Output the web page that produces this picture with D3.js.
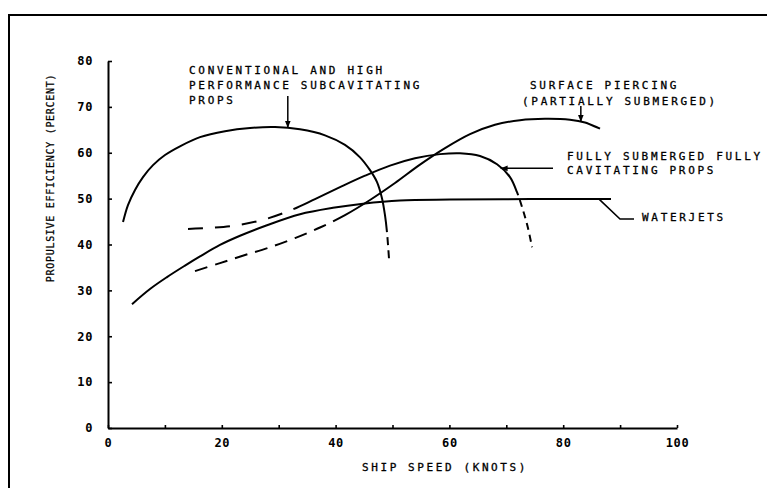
<!DOCTYPE html>
<html><head><meta charset="utf-8">
<script src="https://cdn.jsdelivr.net/npm/d3@7/dist/d3.min.js"></script>
<style>body{margin:0;background:#fff}svg{display:block}</style>
</head><body>
<svg id="chart" width="767" height="488"></svg>
<script>
// ---------- data ----------
const xTickValues = [0,10,20,30,40,50,60,70,80,90,100];
const xTickLabels = [0,20,40,60,80,100];
const yTickValues = [0,10,20,30,40,50,60,70,80];

const conventionalSpeed = [2.64, 3.51, 4.75, 6.15, 7.91, 10.02, 12.65, 16.17, 20.56, 24.96, 29.35, 33.74, 38.14, 41.65, 44.29, 46.05, 47.28, 48.15, 48.68, 49.03, 49.38];
const conventionalEff   = [44.9, 48.6, 51.9, 54.7, 57.3, 59.5, 61.4, 63.4, 64.7, 65.4, 65.6, 65.1, 63.8, 61.7, 59.0, 56.2, 53.6, 50.1, 46.4, 42.7, 37.0];

const waterjetSpeed = [4.22, 7.38, 10.37, 13.53, 16.17, 19.68, 23.2, 27.94, 33.74, 39.54, 44.82, 51.32, 60.1, 74.2, 88.4];
const waterjetEff   = [27.0, 30.3, 32.9, 35.4, 37.4, 39.9, 41.9, 44.2, 46.6, 48.0, 48.9, 49.6, 49.8, 49.9, 49.9];

const fullySubSpeed = [14.06, 18.8, 23.2, 27.59, 31.99, 36.38, 40.77, 45.17, 49.56, 53.95, 58.35, 61.86, 65.38, 68.37, 70.65, 71.88, 72.93, 73.81, 74.52];
const fullySubEff   = [43.4, 43.7, 44.3, 45.5, 47.4, 49.9, 52.5, 55.0, 57.2, 58.8, 59.7, 59.9, 59.3, 57.5, 54.7, 51.4, 47.5, 43.6, 39.4];

const surfaceSpeed = [15.29, 19.68, 24.08, 28.47, 32.86, 37.26, 41.65, 46.05, 50.44, 54.83, 59.23, 63.62, 68.01, 72.41, 76.8, 81.19, 83.83, 86.47];
const surfaceEff   = [34.2, 35.95, 37.7, 39.4, 41.4, 43.7, 46.4, 49.7, 53.4, 57.4, 61.0, 64.05, 66.1, 67.1, 67.4, 67.2, 66.6, 65.25];

// points (speed, efficiency) where the line style changes
const conventionalDashFrom = [48.86, 44.4];
const fullySubSolidFrom = [34.1, 48.5];
const fullySubSolidTo = [71.6, 52.2];
const surfaceSolidFrom = [40.8, 45.9];

// ---------- layout ----------
const svg = d3.select("#chart");
const x = d3.scaleLinear().domain([0,100]).range([108,677]);
const y = d3.scaleLinear().domain([0,80]).range([428,61]);
const FONT = "'DejaVu Sans Mono', 'Liberation Mono', monospace";

// frame
svg.append("line").attr("x1",8).attr("x2",767).attr("y1",15).attr("y2",15).attr("stroke","#000").attr("stroke-width",2);
svg.append("line").attr("x1",9).attr("x2",9).attr("y1",15).attr("y2",488).attr("stroke","#000").attr("stroke-width",2);

// axes
const xAxis = d3.axisBottom(x).tickValues(xTickValues).tickSizeInner(-3).tickSizeOuter(0).tickPadding(10)
  .tickFormat(d => xTickLabels.includes(d) ? String(d) : "");
const gx = svg.append("g").attr("transform","translate(0,"+y(0)+")").call(xAxis);
const yAxis = d3.axisLeft(y).tickValues(yTickValues).tickSizeInner(-4).tickSizeOuter(0).tickPadding(15)
  .tickFormat(d => String(d));
const gy = svg.append("g").attr("transform","translate("+x(0)+",0)").call(yAxis);
[gx, gy].forEach(g => {
  g.select(".domain").attr("stroke","#000").attr("stroke-width",2);
  g.selectAll(".tick line").attr("stroke","#000").attr("stroke-width",1.6);
  g.selectAll(".tick text").attr("font-family",FONT).attr("font-size",12).attr("font-weight","bold")
    .attr("fill","#000").attr("letter-spacing",0.6);
});

// axis titles
svg.append("text").attr("x",445).attr("y",471).attr("text-anchor","middle")
  .attr("font-family",FONT).attr("font-size",11).attr("letter-spacing",2.6).attr("fill","#000")
  .attr("stroke","#000").attr("stroke-width",0.3)
  .text("SHIP SPEED (KNOTS)");
svg.append("text").attr("transform","translate(54,178) rotate(-90)").attr("text-anchor","middle")
  .attr("font-family",FONT).attr("font-size",10).attr("letter-spacing",0.7).attr("fill","#000")
  .attr("stroke","#000").attr("stroke-width",0.25)
  .text("PROPULSIVE EFFICIENCY (PERCENT)");

// ---------- curves ----------
const line = d3.line().x(d => x(d[0])).y(d => y(d[1])).curve(d3.curveCatmullRom.alpha(0.5));
const zip = (a,b) => a.map((v,i) => [v,b[i]]);

function lengthAt(path, pt){
  const total = path.getTotalLength();
  const px = x(pt[0]), py = y(pt[1]);
  let best = 0, bd = Infinity;
  for (let l = 0; l <= total; l += 0.5){
    const p = path.getPointAtLength(l);
    const d = (p.x-px)*(p.x-px)+(p.y-py)*(p.y-py);
    if (d < bd){ bd = d; best = l; }
  }
  return best;
}
function dashArray(total, segs){
  const on = []; let from = 0;
  segs.forEach(s => {
    const to = Math.min(s.to, total);
    if (!s.dash) on.push([from, to]);
    else { let p = from; while (p < to){ on.push([p, Math.min(p+s.dash[0], to)]); p += s.dash[0]+s.dash[1]; } }
    from = to;
  });
  const m = [];
  on.forEach(iv => { if (m.length && Math.abs(m[m.length-1][1]-iv[0]) < 0.01) m[m.length-1][1] = iv[1]; else m.push(iv.slice()); });
  const arr = [];
  if (m[0][0] > 0){ arr.push(0, m[0][0]); }
  m.forEach((iv,i) => {
    const next = i < m.length-1 ? m[i+1][0] : total + 1000;
    arr.push(iv[1]-iv[0], next-iv[1]);
  });
  return arr.join(",");
}

function drawCurve(speed, eff, segFn){
  const p = svg.append("path").datum(zip(speed, eff)).attr("d", line)
    .attr("fill","none").attr("stroke","#000").attr("stroke-width",2).attr("stroke-linecap","butt");
  if (segFn){
    const node = p.node(); const total = node.getTotalLength();
    p.attr("stroke-dasharray", dashArray(total, segFn(node, total)));
  }
  return p;
}

drawCurve(conventionalSpeed, conventionalEff, (n,t) => [
  {to: lengthAt(n, conventionalDashFrom), dash: null},
  {to: t, dash: [8,5]}
]);
drawCurve(waterjetSpeed, waterjetEff, null);
drawCurve(fullySubSpeed, fullySubEff, (n,t) => [
  {to: lengthAt(n, fullySubSolidFrom), dash: [15,12]},
  {to: lengthAt(n, fullySubSolidTo), dash: null},
  {to: t, dash: [7,5]}
]);
drawCurve(surfaceSpeed, surfaceEff, (n,t) => [
  {to: lengthAt(n, surfaceSolidFrom), dash: [13,8]},
  {to: t, dash: null}
]);

// ---------- annotations ----------
const labelStyle = sel => sel.attr("font-family",FONT).attr("font-size",11).attr("letter-spacing",2.7)
  .attr("fill","#000").attr("stroke","#000").attr("stroke-width",0.3);
function textLines(x0, y0, lines, dy){
  lines.forEach((t,i) => labelStyle(svg.append("text").attr("x",x0).attr("y",y0+i*dy).attr("dy","0.36em").text(t)));
}
textLines(189, 70, ["CONVENTIONAL AND HIGH","PERFORMANCE SUBCAVITATING","PROPS"], 15);
textLines(530, 85, ["SURFACE PIERCING"], 16);
textLines(522, 101, ["(PARTIALLY SUBMERGED)"], 16);
textLines(567, 156, ["FULLY SUBMERGED FULLY","CAVITATING PROPS"], 14.5);
textLines(642, 217, ["WATERJETS"], 14);

svg.append("defs").append("marker").attr("id","ah").attr("viewBox","0 0 10 10").attr("refX",10).attr("refY",5)
  .attr("markerWidth",7).attr("markerHeight",7).attr("markerUnits","userSpaceOnUse").attr("orient","auto")
  .append("path").attr("d","M0,1 L10,5 L0,9 Z").attr("fill","#000");

function arrow(x1,y1,x2,y2){
  svg.append("line").attr("x1",x1).attr("y1",y1).attr("x2",x2).attr("y2",y2)
    .attr("stroke","#000").attr("stroke-width",1.5).attr("marker-end","url(#ah)");
}
arrow(x(31.6), 96, x(31.6), y(65.4));
arrow(x(83.1), 106, x(83.1), y(66.7));
arrow(553, y(56.6), x(69.0), y(56.6));
svg.append("path").attr("d", `M${x(86.3)},${y(49.9)} L620,219 L634,219`)
  .attr("fill","none").attr("stroke","#000").attr("stroke-width",1.6);
</script>
</body></html>
